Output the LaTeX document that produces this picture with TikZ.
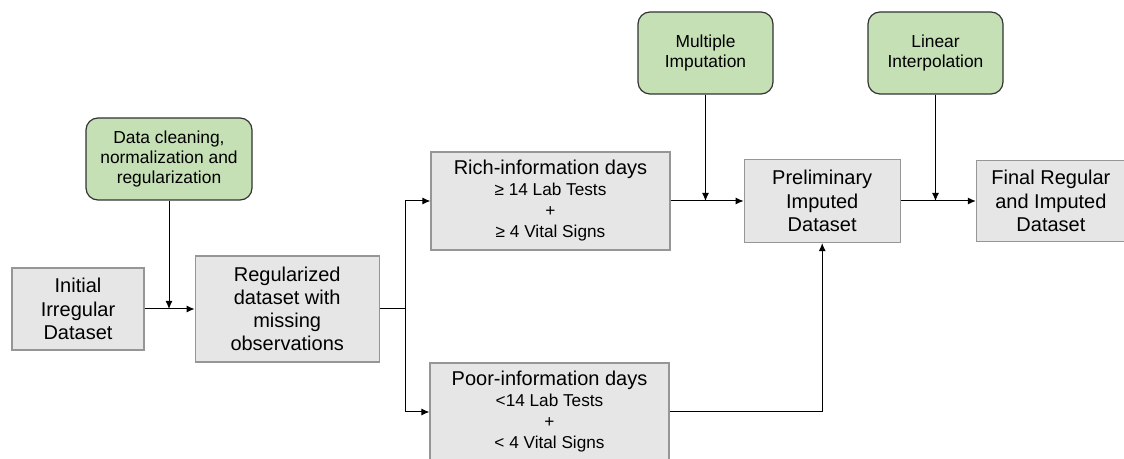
\documentclass[tikz,border=0pt]{standalone}
\usepackage{fontspec}
\setmainfont{Liberation Sans}
\usetikzlibrary{arrows.meta,positioning}
\definecolor{grayi}{RGB}{230,230,230}
\definecolor{grayii}{RGB}{150,150,150}
\definecolor{greeni}{RGB}{197,224,180}
\definecolor{darki}{RGB}{51,51,51}
\newcommand{\subsize}{\fontsize{8.6}{10.5}\selectfont}
\tikzset{
      mygblock/.style 2 args={
        draw=grayii,
        fill=grayi,
        line width=0.6pt,
        align=center,
        inner sep=0pt,
        font=\fontsize{10}{11.6}\selectfont,
        minimum width=#1,
        minimum height=#2
      },
      mystepblock/.style={
        draw=darki,
        fill=greeni,
        line width=0.6pt,
        rounded corners=6pt,
        align=center,
        inner sep=0pt,
        font=\fontsize{8.7}{10.1}\selectfont,
        minimum width=67.5pt,
        minimum height=41pt
      },
      myline/.style={
        draw=black,
        line width=0.5pt
      },
      myarrow/.style={
        myline,
        -{Latex[length=4pt,width=3.5pt]}
      },
    }
\begin{document}
\begin{tikzpicture}[x=1pt,y=1pt,node distance=25pt]
          \useasboundingbox (0,0) rectangle (562,-229.5);

          \node[mygblock={66pt}{41pt}] at (39,-154.5)
            (init)
            {Initial\\Irregular\\Dataset};
          \node[mygblock={92pt}{53pt},right=25pt of init]
            (reg)
            {Regularized\\dataset with\\missing\\observations};
          \node[mystepblock,minimum width=83pt] at (84.5,-79.5)
            (clean)
            {Data cleaning,\\normalization and\\regularization};

          \node[mygblock={119.5pt}{49pt},font=\fontsize{10}{10.5}\selectfont] at (275.25,-100.5)
            (rich)
            {Rich-information days\\{\subsize ≥ 14 Lab Tests}\\{\subsize +}\\{\subsize ≥ 4 Vital Signs}};
          \node[mygblock={119.5pt}{49pt},font=\fontsize{10}{10.5}\selectfont] at (274.75,-206)
            (poor)
            {Poor-information days\\{\subsize <14 Lab Tests}\\{\subsize +}\\{\subsize < 4 Vital Signs}};

          \node[mygblock={78pt}{41.5pt},right=36.5pt of rich]
            (prelim)
            {Preliminary\\Imputed\\Dataset};
          \node[mystepblock] at (352.75,-26.5)
            (multi)
            {Multiple\\Imputation};

          \node[mygblock={74.5pt}{40.5pt},right=37.5pt of prelim]
            (final)
            {Final Regular\\and Imputed\\Dataset};
          \node[mystepblock] at (467.75,-26.5)
            (linear)
            {Linear\\Interpolation};

          \coordinate (split) at (202.5,-154.5);

          \draw [myarrow] (init) -- (reg);
          \draw [myarrow] (clean) -- (clean |- init);
          \draw [myline] (reg) -- (split);
          \draw [myarrow] (split) |- (rich);
          \draw [myarrow] (split) |- (poor);
          \draw [myarrow] (rich) -- (prelim);
          \draw [myarrow] (multi) -- (multi |- rich);
          \draw [myarrow] (poor) -| (prelim);
          \draw [myarrow] (prelim) -- (final);
          \draw [myarrow] (linear) -- (linear |- final);
        \end{tikzpicture}
\end{document}
